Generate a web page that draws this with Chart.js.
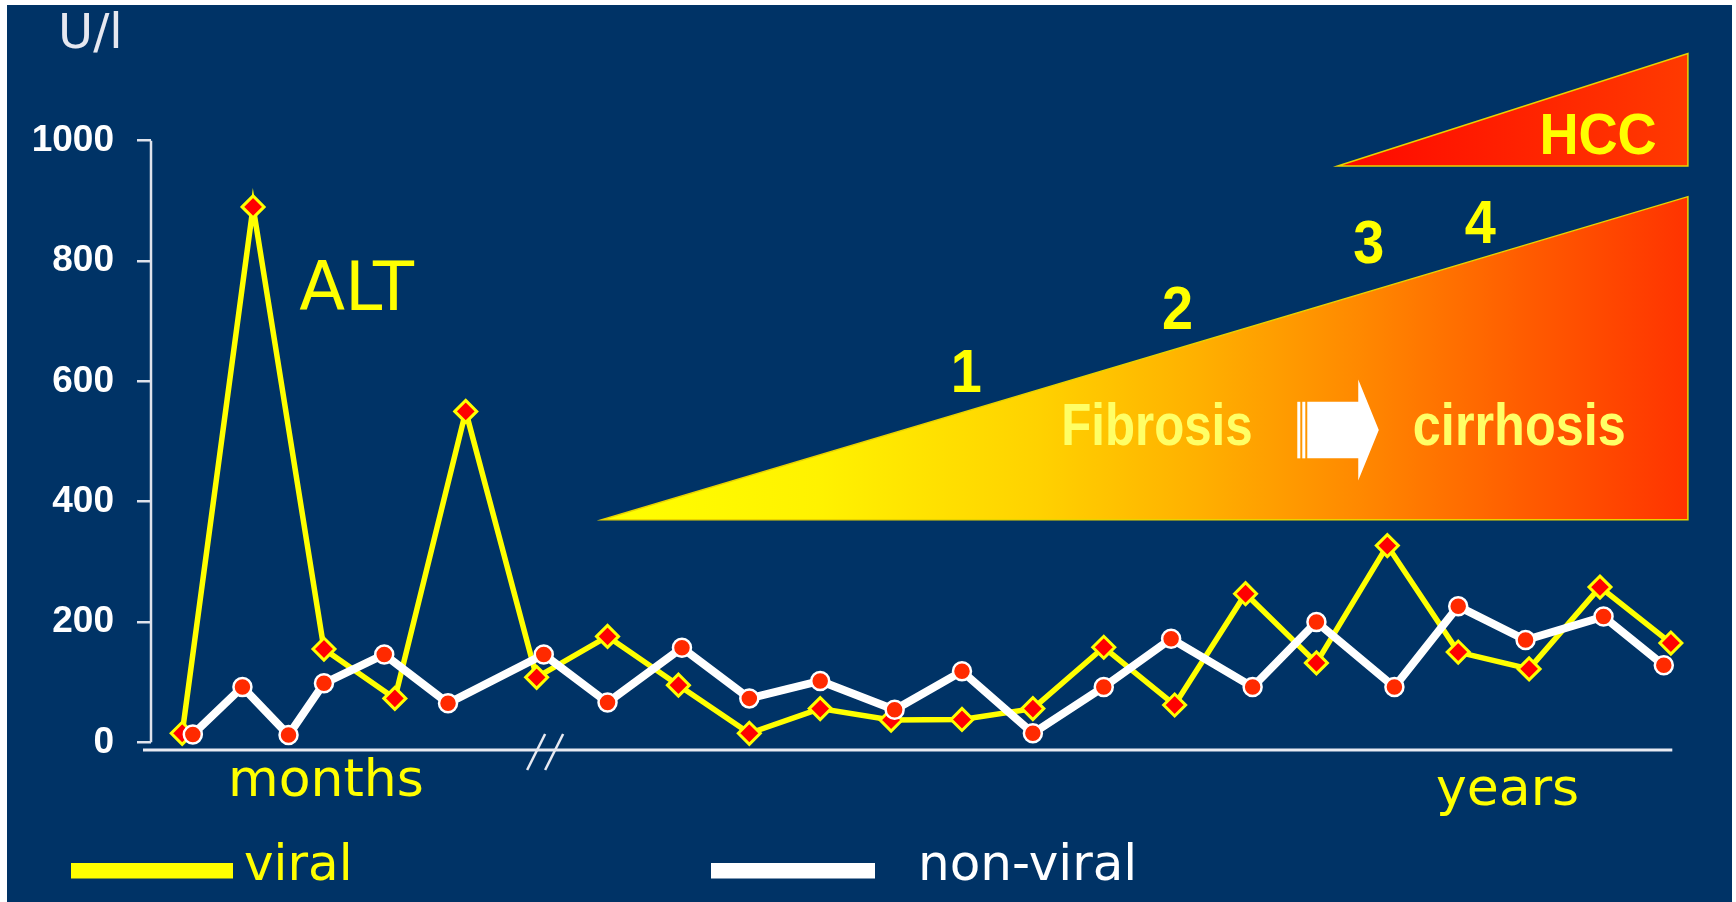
<!DOCTYPE html>
<html>
<head>
<meta charset="utf-8">
<script src="https://cdn.jsdelivr.net/npm/chart.js@4.4.1/dist/chart.umd.min.js"></script>
<style>
  html, body { margin: 0; padding: 0; background: #fff; }
  canvas { display: block; }
</style>
</head>
<body>
<canvas id="altChart" width="1736" height="902"></canvas>
<script>
// Data: x = time step (months first, then years after the break), y = ALT in U/l
const viralX = [0, 1, 2, 3, 4, 5, 6, 7, 8, 9, 10, 11, 12, 13, 14, 15, 16, 17, 18, 19, 20, 21];
const viralALT = [15, 890, 155, 73, 550, 108, 176, 95, 15, 56, 37, 38, 56, 158, 62, 247, 132, 327, 150, 122, 258, 165];

const nonViralX = [0.15, 0.85, 1.5, 2.0, 2.85, 3.75, 5.1, 6.0, 7.05, 8.0, 9.0, 10.05, 11.0, 12.0, 13.0, 13.95, 15.1, 16.0, 17.1, 18.0, 18.95, 20.05, 20.9];
const nonViralALT = [13, 92, 12, 98, 146, 65, 146, 66, 157, 73, 102, 54, 118, 15, 92, 172, 92, 200, 92, 226, 170, 209, 128];

const yTicks = [0, 200, 400, 600, 800, 1000];
const seriesNames = ["viral", "non-viral"];
const stageLabels = ["1", "2", "3", "4"];

const NAVY = "#003366";
const FONT_THIN = "'DejaVu Sans', 'Liberation Sans', sans-serif";
const FONT_BOLD = "'Liberation Sans', Arial, sans-serif";

// annotation shapes, placed in data units (x step, ALT value)
const fibrosisWedge = [[5.92, 370], [21.24, 907], [21.24, 370]];
const hccWedge = [[16.3, 958], [21.24, 1145], [21.24, 958]];
const stagePos = [[11.06, 582], [14.04, 687], [16.74, 796], [18.31, 830]];
const arrow = { tail: 15.73, head: 16.59, tip: 16.88, mid: 519, shaft: 47, half: 84 };
const breakAt = 5.12;

function px(chart, x, y) {
  return [chart.scales.x.getPixelForValue(x), chart.scales.y.getPixelForValue(y)];
}

function text(ctx, str, x, y, font, color, align, squeeze) {
  ctx.save();
  ctx.font = font;
  ctx.fillStyle = color;
  ctx.textAlign = align || "left";
  ctx.textBaseline = "alphabetic";
  ctx.translate(x, y);
  ctx.scale(squeeze || 1, 1);
  ctx.fillText(str, 0, 0);
  ctx.restore();
}

function wedge(chart, pts, stops) {
  const ctx = chart.ctx;
  const p = pts.map(q => px(chart, q[0], q[1]));
  const xs = p.map(q => q[0]);
  const g = ctx.createLinearGradient(Math.min(...xs), 0, Math.max(...xs), 0);
  stops.forEach(s => g.addColorStop(s[0], s[1]));
  ctx.beginPath();
  ctx.moveTo(p[0][0], p[0][1]);
  ctx.lineTo(p[1][0], p[1][1]);
  ctx.lineTo(p[2][0], p[2][1]);
  ctx.closePath();
  ctx.fillStyle = g;
  ctx.fill();
  ctx.lineWidth = 1.5;
  ctx.strokeStyle = "#e8d400";
  ctx.stroke();
}

const backdrop = {
  id: "backdrop",
  beforeDraw(chart) {
    const ctx = chart.ctx;
    ctx.save();
    ctx.fillStyle = "#fff";
    ctx.fillRect(0, 0, chart.width, chart.height);
    ctx.fillStyle = NAVY;
    ctx.fillRect(7, 5, chart.width - 11, chart.height - 5);
    ctx.restore();
  }
};

const decorations = {
  id: "decorations",
  beforeDatasetsDraw(chart) {
    const ctx = chart.ctx;
    const area = chart.chartArea;
    const ys = chart.scales.y;
    ctx.save();

    // fibrosis -> cirrhosis wedge and the HCC wedge
    wedge(chart, fibrosisWedge, [[0, "#ffff00"], [0.2, "#fff200"], [0.4, "#ffd200"], [0.55, "#ffb000"], [0.7, "#ff8800"], [0.85, "#ff5c00"], [1, "#ff3300"]]);
    wedge(chart, hccWedge, [[0, "#ff0800"], [1, "#ff3a00"]]);

    stageLabels.forEach((s, i) => {
      const p = px(chart, stagePos[i][0], stagePos[i][1]);
      text(ctx, s, p[0], p[1], "bold 62px " + FONT_BOLD, "#ffff00", "center", 0.9);
    });

    let p = px(chart, 20.8, 978);
    text(ctx, "HCC", p[0], p[1], "bold 57px " + FONT_BOLD, "#ffff00", "right", 0.95);
    p = px(chart, 12.4, 494);
    text(ctx, "Fibrosis", p[0], p[1], "bold 60px " + FONT_BOLD, "#ffff66", "left", 0.82);
    p = px(chart, 17.36, 494);
    text(ctx, "cirrhosis", p[0], p[1], "bold 60px " + FONT_BOLD, "#ffff66", "left", 0.84);
    p = px(chart, 1.65, 718);
    text(ctx, "ALT", p[0], p[1], "67px " + FONT_THIN, "#ffff00");

    // striped block arrow
    const [tail, mid] = px(chart, arrow.tail, arrow.mid);
    const head = chart.scales.x.getPixelForValue(arrow.head);
    const tip = chart.scales.x.getPixelForValue(arrow.tip);
    const sTop = ys.getPixelForValue(arrow.mid + arrow.shaft);
    const sBot = ys.getPixelForValue(arrow.mid - arrow.shaft);
    const hTop = ys.getPixelForValue(arrow.mid + arrow.half);
    const hBot = ys.getPixelForValue(arrow.mid - arrow.half);
    ctx.fillStyle = "#ffffff";
    ctx.fillRect(tail, sTop, 3, sBot - sTop);
    ctx.fillRect(tail + 5, sTop, 3, sBot - sTop);
    ctx.beginPath();
    ctx.moveTo(tail + 10, sTop);
    ctx.lineTo(head, sTop);
    ctx.lineTo(head, hTop);
    ctx.lineTo(tip, mid);
    ctx.lineTo(head, hBot);
    ctx.lineTo(head, sBot);
    ctx.lineTo(tail + 10, sBot);
    ctx.closePath();
    ctx.fill();

    // axis lines
    ctx.strokeStyle = "#dfe3ec";
    ctx.lineWidth = 2.5;
    ctx.beginPath();
    ctx.moveTo(area.left, ys.getPixelForValue(yTicks[yTicks.length - 1]));
    ctx.lineTo(area.left, ys.getPixelForValue(0));
    ctx.stroke();
    ctx.lineWidth = 3;
    ctx.strokeStyle = "#e8eaf2";
    ctx.beginPath();
    ctx.moveTo(area.left - 8, area.bottom);
    ctx.lineTo(area.right, area.bottom);
    ctx.stroke();

    // axis break "//"
    const bx = chart.scales.x.getPixelForValue(breakAt);
    ctx.lineWidth = 2.5;
    ctx.strokeStyle = "#e8eaf2";
    [-9, 9].forEach(d => {
      ctx.beginPath();
      ctx.moveTo(bx + d - 9, area.bottom + 20);
      ctx.lineTo(bx + d + 9, area.bottom - 16);
      ctx.stroke();
    });

    // axis titles
    text(ctx, "U/l", 58, 48, "48px " + FONT_THIN, "#e6e8f0");
    text(ctx, "months", 228, 796, "52px " + FONT_THIN, "#ffff00");
    text(ctx, "years", 1436, 805, "52px " + FONT_THIN, "#ffff00");
    ctx.restore();
  }
};

const legendBoxes = [{ x: 71, w: 162, tx: 244 }, { x: 711, w: 164, tx: 918 }];

const lineLegend = {
  id: "lineLegend",
  afterDraw(chart) {
    const ctx = chart.ctx;
    ctx.save();
    chart.data.datasets.forEach((ds, i) => {
      const b = legendBoxes[i];
      ctx.fillStyle = ds.borderColor;
      ctx.fillRect(b.x, 863, b.w, 15.5);
      text(ctx, ds.label, b.tx, 880, "50px " + FONT_THIN, ds.borderColor);
    });
    ctx.restore();
  }
};

new Chart(document.getElementById("altChart"), {
  type: "line",
  data: {
    datasets: [
      {
        label: seriesNames[0],
        data: viralX.map((x, i) => ({ x: x, y: viralALT[i] })),
        borderColor: "#ffff00",
        borderWidth: 5.5,
        pointStyle: "rectRot",
        pointRadius: 11,
        pointBackgroundColor: "#ff0000",
        pointBorderColor: "#ffff00",
        pointBorderWidth: 3,
        tension: 0,
        clip: false,
        order: 2
      },
      {
        label: seriesNames[1],
        data: nonViralX.map((x, i) => ({ x: x, y: nonViralALT[i] })),
        borderColor: "#ffffff",
        borderWidth: 8,
        pointStyle: "circle",
        pointRadius: 9,
        pointBackgroundColor: "#ff2a00",
        pointBorderColor: "#ffffff",
        pointBorderWidth: 2.5,
        tension: 0,
        clip: false,
        order: 1
      }
    ]
  },
  options: {
    responsive: false,
    animation: false,
    layout: { padding: { top: 140.7, right: 63.7, bottom: 152, left: 0 } },
    plugins: {
      legend: { display: false },
      tooltip: { enabled: false }
    },
    scales: {
      x: {
        type: "linear",
        display: false,
        min: -0.44,
        max: 21.02
      },
      y: {
        type: "linear",
        min: -12.8,
        max: 1000,
        afterBuildTicks: axis => { axis.ticks = yTicks.map(v => ({ value: v })); },
        afterFit: axis => { axis.width = 151; },
        border: { display: false },
        grid: {
          drawOnChartArea: false,
          drawTicks: true,
          tickLength: 14,
          color: "#dfe3ec",
          lineWidth: 2.5
        },
        ticks: {
          autoSkip: false,
          padding: 23,
          color: "#ffffff",
          font: { family: FONT_BOLD, weight: "bold", size: 37 },
          callback: v => String(v)
        }
      }
    }
  },
  plugins: [backdrop, decorations, lineLegend]
});
</script>
</body>
</html>
